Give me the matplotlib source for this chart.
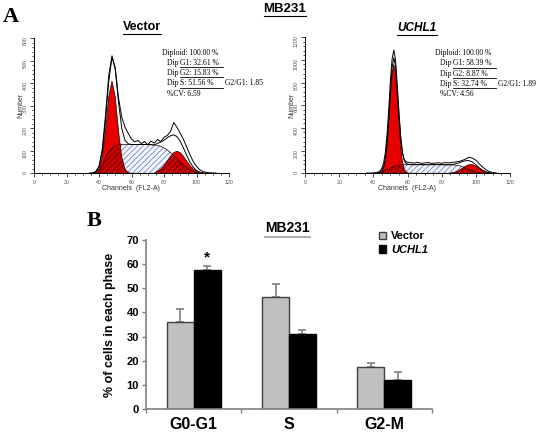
import numpy as np
import matplotlib
matplotlib.use('Agg')
import matplotlib.pyplot as plt
from matplotlib.lines import Line2D
from matplotlib.ticker import MultipleLocator

plt.rcParams['font.family'] = ['Liberation Sans', 'DejaVu Sans']
plt.rcParams['hatch.linewidth'] = 0.5

W, H = 537, 432

# ---------------- Panel A: DNA histograms ----------------
vec_ch = [34, 36, 38, 40, 42, 44, 46, 48, 50, 52, 54, 56, 58, 60, 62, 64, 66, 68, 70, 72,
          74, 76, 78, 80, 82, 84, 86, 88, 90, 92, 94, 96, 98, 100, 102, 104, 106, 108, 110, 112]
vec_raw = [0, 2, 8, 30, 95, 235, 410, 515, 470, 335, 250, 205, 178, 152, 140, 146, 132, 141, 127, 143,
           134, 150, 141, 160, 168, 186, 226, 204, 178, 150, 116, 82, 52, 31, 16, 8, 4, 2, 1, 0]
vec_g1 = [0, 0, 3, 18, 72, 190, 340, 410, 340, 190, 72, 18, 3, 0, 0, 0, 0, 0, 0, 0,
          0, 0, 0, 0, 0, 0, 0, 0, 0, 0, 0, 0, 0, 0, 0, 0, 0, 0, 0, 0]
vec_s = [0, 0, 4, 12, 35, 68, 95, 112, 122, 127, 128, 128, 128, 128, 128, 128, 128, 128, 128, 127,
         126, 124, 120, 113, 104, 92, 79, 65, 50, 37, 25, 15, 8, 4, 1, 0, 0, 0, 0, 0]
vec_g2 = [0, 0, 0, 0, 0, 0, 0, 0, 0, 0, 0, 0, 0, 0, 0, 0, 0, 0, 0, 0,
          0, 9, 19, 34, 54, 75, 92, 98, 92, 75, 54, 34, 19, 9, 4, 1, 0, 0, 0, 0]

uch_ch = [36, 38, 40, 42, 43, 44, 45, 46, 47, 48, 49, 50, 51, 52, 53, 54, 55, 56, 57, 58, 59, 60,
          62, 64, 66, 68, 70, 72, 74, 76, 78, 80, 82, 84, 86, 88, 90, 92, 94, 96, 98, 100,
          102, 104, 106, 108, 110, 112]
uch_raw = [0, 0, 2, 6, 12, 22, 45, 90, 180, 340, 560, 820, 1010, 1088, 1000, 780, 540, 330, 190, 125, 104, 97,
           93, 90, 96, 88, 91, 95, 88, 90, 93, 88, 94, 92, 96, 100, 104, 113, 126, 142, 134, 116,
           84, 55, 30, 14, 6, 2]
uch_g1 = [0, 0, 0, 0, 1, 4, 14, 42, 109, 240, 439, 678, 880, 960, 880, 678, 439, 240, 109, 42, 14, 4,
          0, 0, 0, 0, 0, 0, 0, 0, 0, 0, 0, 0, 0, 0, 0, 0, 0, 0, 0, 0,
          0, 0, 0, 0, 0, 0]
uch_s = [0, 0, 0, 2, 4, 7, 11, 16, 23, 31, 39, 47, 54, 60, 65, 69, 72, 74, 75, 76, 76, 76,
         76, 76, 76, 76, 76, 76, 76, 76, 76, 76, 75, 75, 74, 72, 68, 60, 48, 35, 23, 13,
         6, 2, 0, 0, 0, 0]
uch_g2 = [0, 0, 0, 0, 0, 0, 0, 0, 0, 0, 0, 0, 0, 0, 0, 0, 0, 0, 0, 0, 0, 0,
          0, 0, 0, 0, 0, 0, 0, 0, 0, 0, 0, 0, 4, 11, 24, 43, 63, 77, 77, 63,
          43, 24, 11, 4, 1, 0]

vec_stats = ['32.61 %', '15.83 %', '51.56 %', '1.85', '6.59']
uch_stats = ['58.39 %', '8.87 %', '32.74 %', '1.89', '4.56']

# ---------------- Panel B: bar chart ----------------
phases = ['G0-G1', 'S', 'G2-M']
vector_pct = [36.2, 46.5, 17.6]
vector_err = [5.1, 5.1, 1.3]
uchl1_pct = [57.4, 30.9, 12.0]
uchl1_err = [1.7, 1.7, 3.5]

fig = plt.figure(figsize=(W / 100, H / 100), dpi=100)


def fx(x):
    return x / W


def fy(y):
    return 1 - y / H


def draw_hist(ax, ch, raw, g1, s, g2, ymax, major, minor, label_x):
    ch = np.array(ch, float)
    raw = np.array(raw, float)
    g1 = np.array(g1, float)
    s = np.array(s, float)
    g2 = np.array(g2, float)
    # S phase, blue hatch
    ax.fill_between(ch, 0, s, facecolor='#f4f6fc', edgecolor='#5a74c4', hatch='//////', lw=0)
    # G1 / G2 peaks in red
    ax.fill_between(ch, 0, g1, facecolor='#e60000', edgecolor='none', lw=0)
    ax.fill_between(ch, 0, g2, facecolor='#e60000', edgecolor='none', lw=0)
    # overlap of S with the peaks, dark red hatch
    ax.fill_between(ch, 0, np.minimum(s, g1), facecolor='#c80000', edgecolor='#5a0000', hatch='//////', lw=0)
    ax.fill_between(ch, 0, np.minimum(s, g2), facecolor='#c80000', edgecolor='#5a0000', hatch='//////', lw=0)
    for comp in (g1, s, g2):
        ax.plot(ch, comp, color='#200000', lw=0.5)
    ax.plot(ch, g1 + s + g2, color='black', lw=0.7)
    ax.plot(ch, raw, color='black', lw=0.7)

    ax.set_xlim(0, 120)
    ax.set_ylim(0, ymax)
    for sp in ('top', 'right'):
        ax.spines[sp].set_visible(False)
    for sp in ('left', 'bottom'):
        ax.spines[sp].set_linewidth(0.7)
    ax.xaxis.set_major_locator(MultipleLocator(20))
    ax.xaxis.set_minor_locator(MultipleLocator(5))
    ax.yaxis.set_major_locator(MultipleLocator(major))
    ax.yaxis.set_minor_locator(MultipleLocator(minor))
    ax.tick_params(which='major', length=3, width=0.5, labelsize=3.8, labelcolor='#555555', pad=1.5)
    ax.tick_params(which='minor', length=1.6, width=0.5)
    ax.tick_params(axis='y', labelrotation=90)
    ax.set_xlabel('Channels  (FL2-A)', fontsize=5, color='#333333', labelpad=0.5)
    ax.set_ylabel('Number', fontsize=5, color='#333333')
    ax.yaxis.set_label_coords(label_x, 0.5)


ax1 = fig.add_axes([fx(34), fy(173.3), 195 / W, 135 / H])
draw_hist(ax1, vec_ch, vec_raw, vec_g1, vec_s, vec_g2, 600, 100, 20, -0.051)
ax2 = fig.add_axes([fx(305), fy(173.3), 205 / W, 136 / H])
draw_hist(ax2, uch_ch, uch_raw, uch_g1, uch_s, uch_g2, 1200, 200, 40, -0.049)

renderer = fig.canvas.get_renderer()


def underline(t, dy, color='black', lw=0.8):
    bb = t.get_window_extent(renderer)
    y = bb.y0 - dy
    fig.add_artist(Line2D([bb.x0 / W, bb.x1 / W], [y / H, y / H], color=color, lw=lw))


def stats_block(x0, y0, vals):
    kw = dict(fontsize=5.5, family='Liberation Serif', va='center', ha='left')
    fig.text(fx(x0), fy(y0), 'Diploid: 100.00 %', **kw)
    names = ['G1: ', 'G2: ', 'S: ']
    step = 10.2
    for i in range(3):
        y = y0 + step * (i + 1)
        t1 = fig.text(fx(x0 + 5), fy(y), 'Dip ', **kw)
        a = t1.get_window_extent(renderer).x1
        t2 = fig.text(a / W, fy(y), names[i] + vals[i], **kw)
        bb = t2.get_window_extent(renderer)
        yl = bb.y0 - 0.3
        fig.add_artist(Line2D([a / W, (a + 43) / W], [yl / H, yl / H], color='black', lw=0.6))
        if i == 2:
            fig.text((a + 45) / W, fy(y), 'G2/G1: ' + vals[3], **kw)
    fig.text(fx(x0 + 5), fy(y0 + step * 4), '%CV: ' + vals[4], **kw)


stats_block(162, 52.7, vec_stats)
stats_block(435, 53.2, uch_stats)

# titles of panel A
t = fig.text(fx(142), fy(27), 'Vector', fontsize=9, fontweight='bold', ha='center', va='center')
underline(t, 1.2)
t = fig.text(fx(417), fy(28), 'UCHL1', fontsize=8.5, fontweight='bold', style='italic', ha='center', va='center')
underline(t, 1.2)
t = fig.text(fx(285), fy(9), 'MB231', fontsize=9.5, fontweight='bold', ha='center', va='center')
underline(t, 1.2)
fig.text(fx(3), fy(17), 'A', fontsize=16, fontweight='bold', family='Liberation Serif', ha='left', va='center')

# ---------------- Panel B ----------------
ax3 = fig.add_axes([fx(146), fy(409), 286 / W, 169 / H])
x = np.arange(len(phases)) + 0.5
w = 0.283
b1 = ax3.bar(x - w / 2, vector_pct, w, color='#c0c0c0', edgecolor='#404040', lw=1.0, zorder=2)
b2 = ax3.bar(x + w / 2, uchl1_pct, w, color='black', edgecolor='black', lw=1.0, zorder=2)
ax3.errorbar(x - w / 2, vector_pct, yerr=[np.zeros(3), vector_err], fmt='none', ecolor='#808080',
             elinewidth=1.2, capsize=2.8, capthick=1.2, zorder=1)
ax3.errorbar(x + w / 2, uchl1_pct, yerr=[np.zeros(3), uchl1_err], fmt='none', ecolor='#808080',
             elinewidth=1.2, capsize=2.8, capthick=1.2, zorder=1)
ax3.text(x[0] + w / 2, uchl1_pct[0] + uchl1_err[0] + 0.8, '*', ha='center', va='bottom',
         fontsize=11, fontweight='bold')

ax3.set_xlim(0, 3)
ax3.set_ylim(0, 70)
ax3.set_xticks([0, 1, 2, 3])
ax3.set_xticklabels([])
ax3.set_xticks(x, minor=True)
ax3.set_xticklabels(phases, minor=True, fontsize=11.5, fontweight='bold')
ax3.tick_params(axis='x', which='minor', length=0, pad=6)
ax3.tick_params(axis='x', which='major', length=3, color='#808080', width=1)
ax3.yaxis.set_major_locator(MultipleLocator(10))
ax3.tick_params(axis='y', length=3, color='#808080', width=1, pad=2)
for lab in ax3.get_yticklabels():
    lab.set_fontweight('bold')
    lab.set_fontsize(8)
for sp in ('top', 'right'):
    ax3.spines[sp].set_visible(False)
for sp in ('left', 'bottom'):
    ax3.spines[sp].set_color('#808080')
    ax3.spines[sp].set_linewidth(1.2)
ax3.set_ylabel('% of cells in each phase', fontsize=9, fontweight='bold')
ax3.yaxis.set_label_coords(-0.105, 0.5)

leg = ax3.legend([b1, b2], ['Vector', 'UCHL1'], loc='upper left', bbox_to_anchor=(fx(379), fy(231)),
                 bbox_transform=fig.transFigure, frameon=False, handlelength=0.6, handleheight=0.6,
                 handletextpad=0.5, labelspacing=0.35, borderpad=0, borderaxespad=0,
                 prop={'weight': 'bold', 'size': 8})
leg.get_texts()[1].set_style('italic')

t = fig.text(fx(287.5), fy(228), 'MB231', fontsize=10, fontweight='bold', ha='center', va='center')
underline(t, 1.5, color='#a0a0a0', lw=1.2)
fig.text(fx(87), fy(221), 'B', fontsize=16, fontweight='bold', family='Liberation Serif', ha='left', va='center')

fig.savefig('out.png', dpi=100)
